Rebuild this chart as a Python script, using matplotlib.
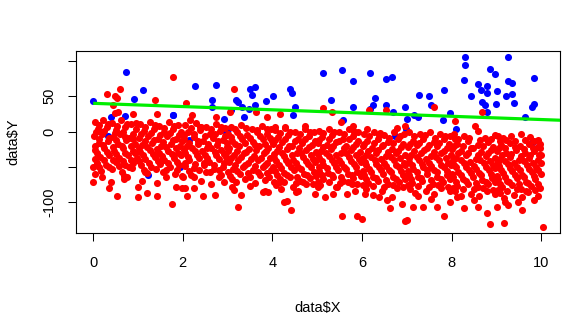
import matplotlib
matplotlib.use("Agg")
import matplotlib.pyplot as plt
import numpy as np

plt.rcParams["font.family"] = ["Liberation Sans", "DejaVu Sans"]

# ---------- observations above the fitted line (blue) ----------
blue_pts = [
    (0.00, 43), (0.74, 85), (1.12, 59), (0.92, 46), (0.40, 20), (0.70, 22), (1.78, 23),
    (0.21, -2), (0.33, -7), (1.23, -62), (1.94, -51), (2.13, -12),
    (2.28, 65), (2.75, 66), (3.50, 61), (3.62, 63), (3.54, 52), (2.66, 44), (2.66, 35),
    (3.19, 45), (3.24, 42), (3.32, 35), (3.47, 32), (3.62, 38), (3.85, 43), (3.07, 31),
    (2.91, 18), (3.37, 20), (1.79, 24), (3.02, 4), (2.97, 0),
    (4.02, 51), (4.40, 61), (4.43, 55), (4.51, 35), (4.45, 24), (5.14, 83), (5.56, 87),
    (5.81, 72), (5.30, 45), (5.79, 35), (5.57, 16),
    (6.17, 83), (6.54, 75), (6.68, 78), (6.29, 48), (6.24, 38), (6.18, 32), (6.54, 37),
    (6.69, 27), (6.95, 35), (7.00, 18), (7.17, 23), (7.24, 20), (7.28, 52), (7.50, 51),
    (7.54, 38), (7.84, 59), (7.97, 26), (7.80, 17), (6.98, 3), (6.74, -6), (8.10, 3),
    (8.29, 105), (8.29, 94), (9.27, 105), (8.27, 73), (8.86, 89), (8.96, 82), (9.27, 72),
    (9.36, 69), (9.83, 76), (8.60, 67), (8.66, 59), (8.79, 64), (8.79, 54), (8.44, 50),
    (9.02, 58), (9.21, 51), (9.36, 53), (9.40, 41), (9.00, 39), (8.67, 42), (8.75, 37),
    (8.79, 28), (9.79, 35), (9.84, 39), (9.64, 20), (9.81, -15),
]

# ---------- observations below the fitted line (red), by x range ----------
red_0_2 = [
    (0.03, 14), (0.22, 17), (0.41, 12), (0.63, 16), (0.85, 10),
    (0.10, 4), (0.31, 7), (0.52, 2), (0.72, 6), (0.95, 3),
    (0.02, -6), (0.20, -3), (0.44, -8), (0.60, -4), (0.81, -9),
    (0.12, -16), (0.33, -13), (0.55, -18), (0.74, -12), (0.93, -17),
    (0.05, -26), (0.25, -23), (0.46, -28), (0.66, -24), (0.88, -27),
    (0.15, -36), (0.36, -33), (0.57, -38), (0.78, -34), (0.97, -37),
    (0.08, -44), (0.29, -47), (0.50, -43), (0.70, -48), (0.90, -45),
    (0.18, -56), (0.42, -53), (0.64, -58), (0.86, -52),
    (0.59, 61), (0.32, 53), (0.49, 50), (0.53, 47), (0.44, 38), (0.56, 28), (0.49, 26),
    (0.88, 25), (0.00, -51), (0.00, -71), (0.40, -71), (0.36, -80), (0.68, -63),
    (0.68, -68), (0.75, -65), (0.54, -91), (0.99, -79), (0.99, -93), (0.20, -65), (0.05, -60),
    (1.04, 10), (1.26, 14), (1.47, 8), (1.69, 13), (1.90, 9),
    (1.13, 1), (1.35, 4), (1.58, -1), (1.78, 3), (1.97, 0),
    (1.02, -9), (1.22, -6), (1.44, -11), (1.65, -7), (1.86, -10),
    (1.10, -19), (1.31, -16), (1.52, -21), (1.73, -17), (1.94, -20),
    (1.05, -29), (1.27, -26), (1.48, -31), (1.68, -27), (1.89, -30),
    (1.16, -39), (1.38, -36), (1.59, -41), (1.80, -37),
    (1.07, -47), (1.29, -50), (1.50, -46), (1.71, -51), (1.92, -48),
    (1.20, -59), (1.55, -57), (1.83, -60),
    (1.37, 45), (1.42, 25), (1.79, 78), (1.62, -64), (1.76, -103), (1.85, -78), (1.21, -87),
    (1.42, -92), (1.42, -73), (1.15, -58), (1.99, -63), (1.98, -80), (1.10, -70),
]

red_fill_0_2 = [
    (0.13, 9), (0.33, 11), (0.53, 8), (0.75, 11), (0.96, 12),
    (0.06, -1), (0.25, 1), (0.48, -2), (0.67, 0), (0.88, -3),
    (0.14, -11), (0.35, -9), (0.51, -12), (0.70, -8), (0.90, -11),
    (0.03, -21), (0.22, -19), (0.44, -22), (0.64, -20), (0.84, -21),
    (0.09, -31), (0.30, -29), (0.52, -32), (0.71, -30), (0.93, -31),
    (0.04, -39), (0.24, -41), (0.45, -40), (0.66, -42), (0.85, -40),
    (0.13, -50), (0.36, -51), (0.58, -49), (0.80, -50),
    (1.15, 7), (1.37, 9), (1.58, 5), (1.80, 8),
    (1.07, -3), (1.28, -2), (1.50, -5), (1.71, -2), (1.92, -5),
    (1.16, -13), (1.36, -12), (1.57, -15), (1.78, -12), (1.99, -14),
    (1.03, -23), (1.21, -22), (1.42, -25), (1.62, -22), (1.84, -24),
    (1.11, -34), (1.33, -32), (1.54, -35), (1.75, -32), (1.96, -34),
    (1.02, -42), (1.24, -44), (1.45, -42), (1.66, -45), (1.87, -43),
    (1.13, -54), (1.40, -53), (1.62, -55), (1.88, -54),
]

red_2_4 = [
    (2.05, 9), (2.30, 12), (2.52, 6), (2.74, 10), (2.95, 5),
    (2.12, -1), (2.38, 2), (2.60, -3), (2.83, 1),
    (2.02, -11), (2.24, -8), (2.45, -13), (2.67, -9), (2.89, -12),
    (2.10, -21), (2.33, -18), (2.55, -23), (2.77, -19), (2.98, -22),
    (2.06, -31), (2.28, -28), (2.49, -33), (2.71, -29), (2.92, -32),
    (2.15, -41), (2.37, -38), (2.58, -43), (2.80, -39),
    (2.04, -49), (2.26, -52), (2.47, -48), (2.69, -53), (2.90, -50),
    (2.19, -61), (2.52, -58), (2.85, -62),
    (2.08, 40), (2.75, 21), (2.20, 23), (2.17, 16), (2.39, 7),
    (2.05, -80), (2.10, -91), (2.26, -80), (2.46, -92), (2.72, -90), (2.91, -72),
    (2.80, -65), (2.26, -65), (2.00, -64), (2.40, -70), (2.62, -75),
    (3.08, 6), (3.30, 9), (3.55, 4), (3.77, 8), (3.97, 3),
    (3.02, -3), (3.20, 0), (3.43, -5), (3.66, -1), (3.88, -4),
    (3.11, -13), (3.33, -10), (3.56, -15), (3.78, -11), (3.99, -14),
    (3.04, -23), (3.25, -20), (3.47, -25), (3.70, -21), (3.91, -24),
    (3.14, -33), (3.36, -30), (3.58, -35), (3.81, -31),
    (3.03, -43), (3.23, -40), (3.45, -45), (3.67, -41), (3.89, -44),
    (3.12, -53), (3.34, -50), (3.56, -55), (3.78, -51), (3.97, -54),
    (3.06, -63), (3.28, -60), (3.50, -65), (3.73, -61), (3.93, -64),
    (3.18, -71), (3.62, -73),
    (3.15, 61), (3.06, 27), (3.64, 27), (3.88, 20), (3.10, -79), (3.15, -83),
    (3.24, -107), (3.30, -90), (3.50, -77), (3.80, -86), (3.91, -86), (3.84, -84),
]

red_fill_2_4 = [
    (2.18, 5), (2.41, 7), (2.63, 4), (2.86, 6),
    (2.03, -5), (2.25, -4), (2.49, -7), (2.72, -4), (2.94, -6),
    (2.13, -16), (2.35, -14), (2.56, -17), (2.78, -14), (2.99, -16),
    (2.02, -26), (2.21, -24), (2.43, -27), (2.64, -24), (2.86, -26),
    (2.11, -36), (2.32, -34), (2.54, -37), (2.75, -34), (2.96, -36),
    (2.05, -44), (2.27, -46), (2.48, -44), (2.70, -47), (2.91, -45),
    (2.13, -56), (2.37, -55), (2.60, -57), (2.80, -55),
    (3.17, 3), (3.42, 5), (3.65, 2), (3.87, 4),
    (3.07, -8), (3.27, -6), (3.50, -9), (3.72, -6), (3.94, -9),
    (3.16, -18), (3.38, -16), (3.61, -19), (3.84, -17),
    (3.02, -28), (3.20, -27), (3.41, -29), (3.63, -26), (3.86, -28),
    (3.08, -38), (3.30, -36), (3.52, -39), (3.74, -37), (3.95, -38),
    (3.17, -48), (3.39, -47), (3.61, -49), (3.84, -47),
    (3.01, -58), (3.22, -56), (3.45, -59), (3.67, -57), (3.88, -59),
    (3.10, -67), (3.38, -68), (3.84, -69),
]

red_4_6 = [
    (4.05, 2), (4.28, 5), (4.50, 0), (4.73, 4), (4.94, -1),
    (4.12, -8), (4.36, -5), (4.58, -10), (4.81, -6),
    (4.02, -18), (4.22, -15), (4.44, -20), (4.66, -16), (4.88, -19),
    (4.10, -28), (4.32, -25), (4.54, -30), (4.76, -26), (4.97, -29),
    (4.04, -38), (4.25, -35), (4.47, -40), (4.69, -36), (4.91, -39),
    (4.14, -48), (4.36, -45), (4.58, -50), (4.80, -46),
    (4.06, -56), (4.27, -59), (4.49, -55), (4.71, -60), (4.93, -57),
    (4.16, -68), (4.39, -65), (4.61, -70), (4.84, -66),
    (4.09, -76), (4.45, -79), (4.75, -75),
    (4.17, 25), (4.06, 7), (4.29, 6), (4.72, 8), (4.20, -81), (4.32, -98), (4.25, -100),
    (4.42, -112), (4.52, -86), (4.58, -84), (4.96, -88), (4.17, -72),
    (5.03, 1), (5.26, 4), (5.48, -1), (5.70, 3), (5.92, 0),
    (5.11, -8), (5.34, -5), (5.57, -10), (5.79, -6),
    (5.02, -16), (5.21, -19), (5.43, -15), (5.65, -20), (5.87, -17),
    (5.09, -28), (5.31, -25), (5.53, -30), (5.75, -26), (5.96, -29),
    (5.05, -38), (5.27, -35), (5.49, -40), (5.71, -36), (5.93, -39),
    (5.14, -48), (5.37, -45), (5.60, -50), (5.82, -46),
    (5.04, -56), (5.24, -59), (5.46, -55), (5.68, -60), (5.90, -57),
    (5.12, -68), (5.35, -65), (5.58, -70), (5.81, -66),
    (5.07, -76), (5.45, -79), (5.78, -75),
    (5.14, 34), (5.33, 28), (5.54, 13), (5.81, 8), (5.85, -1), (5.02, -78), (5.18, -93),
    (5.36, -88), (5.42, -79), (5.55, -120), (5.89, -120), (6.00, -124), (5.66, -88), (5.85, -84),
]

red_fill_4_6 = [
    (4.17, -2), (4.40, 0), (4.62, -4), (4.85, -1),
    (4.06, -12), (4.28, -11), (4.50, -14), (4.72, -11), (4.95, -13),
    (4.15, -22), (4.37, -21), (4.60, -24), (4.82, -22),
    (4.03, -32), (4.21, -31), (4.43, -34), (4.65, -31), (4.87, -33),
    (4.09, -42), (4.31, -41), (4.53, -44), (4.75, -42), (4.96, -43),
    (4.02, -51), (4.20, -52), (4.42, -50), (4.64, -53), (4.86, -51),
    (4.11, -62), (4.33, -61), (4.55, -64), (4.78, -62), (4.98, -63),
    (4.03, -71), (4.27, -72), (4.52, -73), (4.69, -71), (4.90, -74),
    (5.14, -2), (5.37, 0), (5.60, -4), (5.82, -1),
    (5.05, -12), (5.26, -11), (5.48, -14), (5.70, -11), (5.92, -13),
    (5.14, -22), (5.36, -21), (5.59, -24), (5.81, -22),
    (5.02, -32), (5.20, -31), (5.42, -34), (5.64, -31), (5.86, -33),
    (5.10, -42), (5.32, -41), (5.54, -44), (5.76, -42), (5.97, -43),
    (5.03, -51), (5.21, -52), (5.43, -50), (5.65, -53), (5.87, -51),
    (5.10, -62), (5.32, -61), (5.54, -64), (5.77, -62), (5.97, -63),
    (5.02, -71), (5.26, -72), (5.50, -73), (5.68, -71), (5.90, -74),
]

red_6_8 = [
    (6.04, -3), (6.27, 0), (6.49, -5), (6.72, -1), (6.94, -4),
    (6.12, -13), (6.35, -10), (6.57, -15), (6.80, -11),
    (6.02, -21), (6.22, -24), (6.44, -20), (6.66, -25), (6.88, -22),
    (6.10, -33), (6.32, -30), (6.54, -35), (6.76, -31), (6.97, -34),
    (6.06, -43), (6.28, -40), (6.50, -45), (6.72, -41), (6.93, -44),
    (6.15, -53), (6.38, -50), (6.61, -55), (6.83, -51),
    (6.05, -61), (6.25, -64), (6.47, -60), (6.69, -65), (6.91, -62),
    (6.13, -73), (6.36, -70), (6.59, -75), (6.82, -71),
    (6.08, -81), (6.44, -84), (6.78, -80),
    (6.15, 31), (6.54, 30), (6.95, 8), (6.11, 4), (6.40, -2), (6.78, 5), (6.07, -88),
    (6.38, -93), (6.67, -93), (6.63, -109), (6.89, -103), (6.96, -127), (7.00, -125),
    (6.25, -90), (6.55, -97),
    (7.06, -1), (7.29, -4), (7.52, 0), (7.74, -3), (7.96, -6),
    (7.13, -13), (7.37, -10), (7.60, -15), (7.83, -11),
    (7.03, -22), (7.23, -19), (7.45, -24), (7.67, -20), (7.89, -23),
    (7.10, -33), (7.32, -30), (7.54, -35), (7.76, -31), (7.98, -34),
    (7.05, -43), (7.27, -40), (7.49, -45), (7.71, -41), (7.93, -44),
    (7.14, -53), (7.37, -50), (7.60, -55), (7.82, -51),
    (7.04, -61), (7.24, -64), (7.46, -60), (7.68, -65), (7.90, -62),
    (7.12, -73), (7.35, -70), (7.58, -75), (7.81, -71),
    (7.07, -81), (7.43, -84), (7.77, -80), (7.97, -85),
    (7.61, 35), (7.14, -107), (7.36, -107), (7.82, -120), (7.67, -107), (7.97, -100),
    (7.25, -92), (7.55, -95),
]

red_fill_6_8 = [
    (6.15, -7), (6.38, -5), (6.61, -9), (6.84, -6),
    (6.05, -17), (6.26, -16), (6.48, -19), (6.70, -16), (6.92, -18),
    (6.14, -27), (6.36, -26), (6.59, -29), (6.81, -27),
    (6.02, -37), (6.20, -36), (6.42, -39), (6.64, -36), (6.86, -38),
    (6.09, -47), (6.31, -46), (6.53, -49), (6.75, -47), (6.97, -48),
    (6.03, -56), (6.21, -57), (6.43, -55), (6.65, -58), (6.87, -56),
    (6.10, -67), (6.32, -66), (6.54, -69), (6.76, -67), (6.97, -68),
    (6.02, -76), (6.25, -77), (6.49, -78), (6.70, -76), (6.92, -79),
    (7.17, -7), (7.40, -5), (7.63, -9), (7.86, -6),
    (7.07, -17), (7.28, -16), (7.50, -19), (7.72, -16), (7.94, -18),
    (7.16, -27), (7.38, -26), (7.61, -29), (7.83, -27),
    (7.04, -37), (7.22, -36), (7.44, -39), (7.66, -36), (7.88, -38),
    (7.11, -47), (7.33, -46), (7.55, -49), (7.77, -47), (7.98, -48),
    (7.02, -56), (7.23, -57), (7.45, -55), (7.67, -58), (7.89, -56),
    (7.10, -67), (7.32, -66), (7.54, -69), (7.76, -67), (7.96, -68),
    (7.02, -76), (7.25, -77), (7.49, -78), (7.70, -76), (7.92, -79),
    (7.19, -87), (7.61, -88),
]

red_8_10 = [
    (8.05, -4), (8.28, -7), (8.53, 8), (8.60, 1), (8.75, -9), (8.96, -5),
    (8.12, -17), (8.36, -14), (8.58, -19), (8.81, -15),
    (8.02, -25), (8.22, -28), (8.44, -24), (8.66, -29), (8.88, -26),
    (8.10, -37), (8.32, -34), (8.54, -39), (8.76, -35), (8.97, -38),
    (8.06, -47), (8.28, -44), (8.50, -49), (8.72, -45), (8.93, -48),
    (8.15, -57), (8.38, -54), (8.61, -59), (8.83, -55),
    (8.04, -65), (8.25, -68), (8.47, -64), (8.69, -69), (8.91, -66),
    (8.13, -77), (8.36, -74), (8.59, -79), (8.82, -75),
    (8.08, -85), (8.44, -88), (8.78, -84), (8.98, -89),
    (8.69, 27), (8.08, 15), (8.08, -10), (8.27, -109), (8.60, -107), (8.79, -115),
    (8.86, -131), (8.12, -93), (8.50, -97),
    (9.04, -6), (9.14, -9), (9.33, -7), (9.55, -3), (9.76, -8), (9.93, -12), (9.98, -17),
    (9.10, -19), (9.31, -16), (9.52, -21), (9.73, -17), (9.92, -22),
    (9.02, -27), (9.22, -30), (9.43, -26), (9.64, -31), (9.85, -28), (10.00, -33),
    (9.09, -39), (9.30, -36), (9.51, -41), (9.72, -37), (9.94, -40),
    (9.05, -49), (9.26, -46), (9.47, -51), (9.68, -47), (9.89, -50),
    (9.14, -59), (9.36, -56), (9.58, -61), (9.80, -57), (9.99, -60),
    (9.03, -67), (9.24, -70), (9.45, -66), (9.66, -71), (9.87, -68),
    (9.12, -79), (9.34, -76), (9.56, -81), (9.78, -77), (9.97, -80),
    (9.07, -87), (9.40, -90), (9.71, -86), (9.92, -91),
    (9.16, -130), (9.02, -107), (9.57, -111), (10.03, -135), (9.20, -100), (9.25, -104),
    (9.49, -100), (9.83, -97),
]

red_fill_8_10 = [
    (8.15, -11), (8.40, -9), (8.64, -12), (8.88, -10),
    (8.05, -21), (8.26, -20), (8.48, -23), (8.70, -20), (8.92, -22),
    (8.14, -31), (8.36, -30), (8.59, -33), (8.81, -31),
    (8.03, -41), (8.20, -40), (8.42, -43), (8.64, -40), (8.86, -42),
    (8.10, -51), (8.32, -50), (8.54, -53), (8.76, -51), (8.98, -52),
    (8.02, -60), (8.22, -61), (8.44, -59), (8.66, -62), (8.88, -60),
    (8.10, -71), (8.32, -70), (8.54, -73), (8.76, -71), (8.97, -72),
    (8.03, -80), (8.26, -81), (8.50, -82), (8.71, -80), (8.93, -83),
    (8.20, -91), (8.62, -92),
    (9.07, -13), (9.21, -12), (9.42, -14), (9.64, -12), (9.85, -14),
    (9.05, -23), (9.20, -24), (9.41, -22), (9.62, -25), (9.82, -23), (9.98, -24),
    (9.12, -33), (9.33, -32), (9.54, -35), (9.75, -33), (9.95, -34),
    (9.03, -43), (9.19, -42), (9.40, -44), (9.61, -42), (9.82, -45), (10.00, -44),
    (9.10, -54), (9.31, -52), (9.52, -55), (9.73, -53), (9.94, -54),
    (9.02, -63), (9.20, -64), (9.41, -62), (9.62, -65), (9.83, -63),
    (9.08, -74), (9.29, -72), (9.50, -75), (9.71, -73), (9.92, -74),
    (9.03, -83), (9.23, -84), (9.45, -82), (9.66, -85), (9.87, -83),
    (9.18, -94), (9.58, -93),
]

# fitted line end points
line_x = [0.0, 10.5]
line_y = [40.0, 15.85]

red_pts = (red_0_2 + red_fill_0_2 + red_2_4 + red_fill_2_4 + red_4_6 + red_fill_4_6
           + red_6_8 + red_fill_6_8 + red_8_10 + red_fill_8_10)
bx, by = np.array(blue_pts).T
rx, ry = np.array(red_pts).T

fig = plt.figure(figsize=(5.76, 3.24), dpi=100)
ax = fig.add_axes([0.1314, 0.2818, 0.8408, 0.5608])

ax.scatter(bx, by, s=26, c="#0000ff", linewidths=0, zorder=2)
ax.scatter(rx, ry, s=26, c="#ff0000", linewidths=0, zorder=3)
ax.plot(line_x, line_y, color="#00ee00", lw=2.3, zorder=4, solid_capstyle="butt")

ax.set_xlim(-0.39, 10.42)
ax.set_ylim(-143.5, 114.2)

ax.set_xticks([0, 2, 4, 6, 8, 10])
ax.set_yticks([-100, -50, 0, 50, 100])
ax.set_yticklabels(["-100", "", "0", "50", ""], rotation=90, va="center")
ax.tick_params(axis="both", length=6, width=0.75, labelsize=10.5, color="black")
ax.tick_params(axis="x", pad=11)
ax.tick_params(axis="y", pad=8)

for sp in ax.spines.values():
    sp.set_linewidth(0.8)
    sp.set_color("black")

ax.set_xlabel("data$X", fontsize=10.5, va="center")
ax.set_ylabel("data$Y", fontsize=10.5, va="center")
ax.xaxis.set_label_coords(0.5, -0.414)
ax.yaxis.set_label_coords(-0.129, 0.5)

fig.savefig("out.png", dpi=100)
